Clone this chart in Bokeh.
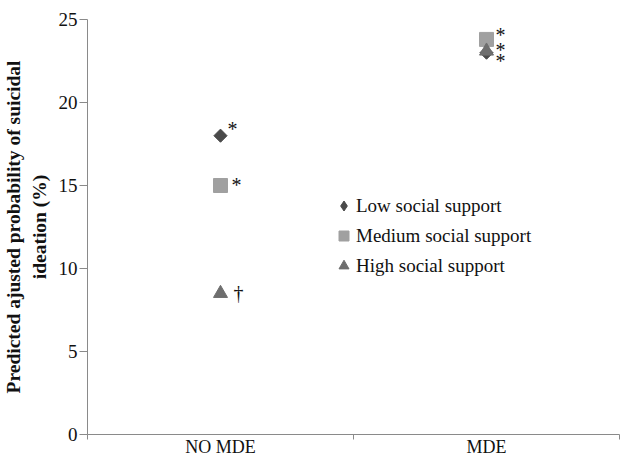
from bokeh.plotting import figure
from bokeh.models import (Range1d, FixedTicker, Legend, LegendItem, ColumnDataSource)
from bokeh.core.properties import value
from bokeh.embed import file_html
from bokeh.resources import INLINE

# ---------------- data ----------------
groups = ["NO MDE", "MDE"]
series_names = ["Low social support", "Medium social support", "High social support"]
low = [18.0, 23.0]
medium = [15.0, 23.8]
high = [8.5, 23.1]
notes_low = ["*", "*"]
notes_medium = ["*", "*"]
notes_high = ["\u2020", "*"]
y_ticks = [0, 5, 10, 15, 20, 25]
y_label = "Predicted ajusted probability of suicidal\nideation (%)"

# category slot centres (one unit per category)
centres = [i + 0.5 for i in range(len(groups))]
bounds = list(range(len(groups) + 1))

# ---------------- style ----------------
FONT = "Liberation Serif"
AXIS_COLOR = "#8a8a8a"
TEXT_COLOR = "#111111"
styles = {
    "low":    dict(marker="square", angle=0.7854, size=9.3, color="#4a4a4a", legend_marker="diamond"),
    "medium": dict(marker="square", angle=0.0, size=14, color="#a0a0a0", legend_marker="square"),
    "high":   dict(marker="triangle", angle=0.0, size=14, color="#6e6e6e", legend_marker="triangle"),
}
# annotation offsets (pixels) per series, per group
note_dx = {"low": [7, 9], "medium": [11, 9], "high": [13, 9]}
note_dy = {"low": [-7, 8], "medium": [-1, -4], "high": [0, -1]}

p = figure(width=620, height=459,
           x_range=Range1d(0, len(groups)), y_range=Range1d(0, 25),
           output_backend="svg", toolbar_location=None,
           min_border_left=86, min_border_right=1, min_border_top=19, min_border_bottom=24)
p.outline_line_color = None
p.xgrid.visible = False
p.ygrid.visible = False
p.background_fill_color = "white"
p.border_fill_color = "white"

# x axis: category labels at centres, tick marks at boundaries
xaxis = p.xaxis[0]
xaxis.ticker = FixedTicker(ticks=centres, minor_ticks=bounds)
xaxis.major_label_overrides = {c: g for c, g in zip(centres, groups)}
xaxis.major_tick_out = 0
xaxis.major_tick_in = 0
xaxis.minor_tick_out = 5
xaxis.minor_tick_in = 0
xaxis.minor_tick_line_color = AXIS_COLOR
xaxis.axis_line_color = AXIS_COLOR
xaxis.major_label_text_font = FONT
xaxis.major_label_text_font_size = "18px"
xaxis.major_label_text_color = TEXT_COLOR
xaxis.major_label_standoff = -3

yaxis = p.yaxis[0]
yaxis.ticker = FixedTicker(ticks=y_ticks)
yaxis.major_tick_out = 8
yaxis.major_tick_in = 0
yaxis.minor_tick_out = 0
yaxis.minor_tick_in = 0
yaxis.axis_line_color = AXIS_COLOR
yaxis.major_tick_line_color = AXIS_COLOR
yaxis.major_label_text_font = FONT
yaxis.major_label_text_font_size = "19px"
yaxis.major_label_text_color = TEXT_COLOR
yaxis.major_label_standoff = 2
yaxis.axis_label = y_label
yaxis.axis_label_text_font = FONT
yaxis.axis_label_text_font_style = "bold"
yaxis.axis_label_text_font_size = "19.5px"
yaxis.axis_label_text_color = TEXT_COLOR
yaxis.axis_label_standoff = 6

series = [("low", low, notes_low), ("medium", medium, notes_medium), ("high", high, notes_high)]
legend_items = []
for (key, vals, notes), name in zip(series, series_names):
    st = styles[key]
    src = ColumnDataSource(dict(x=centres, cat=groups, y=vals, note=notes,
                                dx=note_dx[key], dy=note_dy[key]))
    p.scatter(x="x", y="y", source=src, marker=st["marker"], angle=st["angle"],
              size=st["size"], fill_color=st["color"], line_color=st["color"])
    proxy = p.scatter(x="x", y="y", source=src, marker=st["legend_marker"],
                      fill_color=st["color"], line_color=st["color"], visible=False)
    legend_items.append(LegendItem(label=name, renderers=[proxy]))
    p.text(x="x", y="y", text="note", source=src, x_offset="dx", y_offset="dy",
           text_font=value(FONT), text_font_size="20px", text_color=TEXT_COLOR,
           text_baseline="middle", text_align="left")

legend = Legend(items=legend_items, location=(244, 156),
                border_line_color=None, background_fill_alpha=0,
                label_text_font=FONT, label_text_font_size="19px",
                label_text_color=TEXT_COLOR,
                glyph_width=25, glyph_height=25, spacing=5, padding=0, margin=0,
                label_standoff=0)
p.add_layout(legend)

open("out.html", "w").write(file_html(p, INLINE))
